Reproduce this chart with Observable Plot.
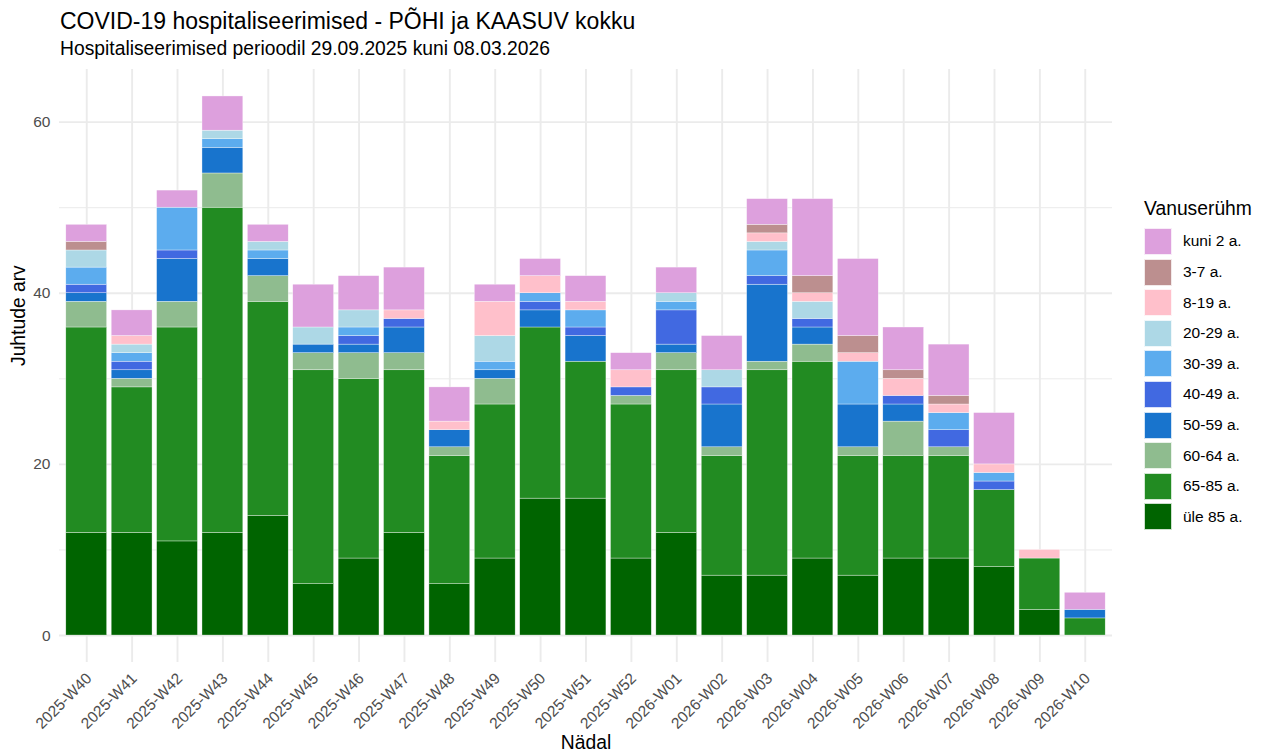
<!DOCTYPE html>
<html>
<head>
<meta charset="utf-8">
<script src="https://cdn.jsdelivr.net/npm/d3@7"></script>
<script src="https://cdn.jsdelivr.net/npm/@observablehq/plot@0.6"></script>
<style>
  body { margin: 0; background: #fff; font-family: "Liberation Sans", Arial, sans-serif; }
  #wrap { position: relative; width: 1263px; height: 753px; overflow: hidden; }
  #chart { position: absolute; left: 0; top: 0; }
  #title { position: absolute; left: 60px; top: 8px; font-size: 23px; color: #000; white-space: nowrap; }
  #subtitle { position: absolute; left: 60px; top: 37.5px; font-size: 19.3px; color: #000; white-space: nowrap; }
  #legend { position: absolute; left: 1144px; top: 197.5px; }
  #legend .lt { font-size: 19.3px; color: #000; height: 28.7px; line-height: 22px; white-space: nowrap; }
  #legend .row { display: flex; align-items: center; height: 30.6px; }
  #legend .key { width: 27.5px; height: 27px; box-sizing: border-box; border: 0.5px solid rgba(255,255,255,0.8); }
  #legend .lab { font-size: 15.5px; color: #000; margin-left: 11.5px; white-space: nowrap; }
</style>
</head>
<body>
<div id="wrap">
  <div id="chart"></div>
  <div id="title">COVID-19 hospitaliseerimised - PÕHI ja KAASUV kokku</div>
  <div id="subtitle">Hospitaliseerimised perioodil 29.09.2025 kuni 08.03.2026</div>
  <div id="legend"></div>
</div>
<script>
// Weeks (x categories)
const weeks = [
  "2025-W40","2025-W41","2025-W42","2025-W43","2025-W44","2025-W45","2025-W46",
  "2025-W47","2025-W48","2025-W49","2025-W50","2025-W51","2025-W52",
  "2026-W01","2026-W02","2026-W03","2026-W04","2026-W05","2026-W06","2026-W07",
  "2026-W08","2026-W09","2026-W10"
];

// Age groups, stacked bottom -> top
const groups = ["üle 85 a.","65-85 a.","60-64 a.","50-59 a.","40-49 a.","30-39 a.","20-29 a.","8-19 a.","3-7 a.","kuni 2 a."];
const groupColors = ["#006400","#228B22","#8FBC8F","#1874CD","#4169E1","#5CACEE","#ADD8E6","#FFC0CB","#BC8F8F","#DDA0DD"];

// Series values per age group (one value per week)
const ule85  = [12,12,11,12,14, 6, 9,12, 6, 9,16,16, 9,12, 7, 7, 9, 7, 9, 9, 8, 3, 0];
const a65_85 = [24,17,25,38,25,25,21,19,15,18,20,16,18,19,14,24,23,14,12,12, 9, 6, 2];
const a60_64 = [ 3, 1, 3, 4, 3, 2, 3, 2, 1, 3, 0, 0, 1, 2, 1, 1, 2, 1, 4, 1, 0, 0, 0];
const a50_59 = [ 1, 1, 5, 3, 2, 1, 1, 3, 2, 1, 2, 3, 0, 1, 5, 9, 2, 5, 2, 0, 0, 0, 1];
const a40_49 = [ 1, 1, 1, 0, 0, 0, 1, 1, 0, 0, 1, 1, 1, 4, 2, 1, 1, 0, 1, 2, 1, 0, 0];
const a30_39 = [ 2, 1, 5, 1, 1, 0, 1, 0, 0, 1, 1, 2, 0, 1, 0, 3, 0, 5, 0, 2, 1, 0, 0];
const a20_29 = [ 2, 1, 0, 1, 1, 2, 2, 0, 0, 3, 0, 0, 0, 1, 2, 1, 2, 0, 0, 0, 0, 0, 0];
const a8_19  = [ 0, 1, 0, 0, 0, 0, 0, 1, 1, 4, 2, 1, 2, 0, 0, 1, 1, 1, 2, 1, 1, 1, 0];
const a3_7   = [ 1, 0, 0, 0, 0, 0, 0, 0, 0, 0, 0, 0, 0, 0, 0, 1, 2, 2, 1, 1, 0, 0, 0];
const kuni2  = [ 2, 3, 2, 4, 2, 5, 4, 5, 4, 2, 2, 3, 2, 3, 4, 3, 9, 9, 5, 6, 6, 0, 2];

const series = [ule85, a65_85, a60_64, a50_59, a40_49, a30_39, a20_29, a8_19, a3_7, kuni2];

// Axis ticks
const majorTicks = [0, 20, 40, 60];
const minorTicks = [10, 30, 50];
const yDomain = [-3.15, 66.15];

const rows = [];
groups.forEach((g, gi) => {
  weeks.forEach((w, wi) => {
    const v = series[gi][wi];
    if (v > 0) rows.push({week: w, group: g, value: v});
  });
});

const font = '"Liberation Sans", Arial, sans-serif';

const chart = Plot.plot({
  width: 1263,
  height: 753,
  marginLeft: 59,
  marginRight: 151,
  marginTop: 69,
  marginBottom: 91,
  style: {fontFamily: font, background: "transparent", overflow: "visible"},
  x: {domain: weeks, paddingInner: 0.1, paddingOuter: 0.15, round: false, axis: null},
  y: {domain: yDomain, axis: null},
  color: {domain: groups, range: groupColors},
  marks: [
    Plot.ruleY(minorTicks, {stroke: "#ebebeb", strokeWidth: 1}),
    Plot.ruleY(majorTicks, {stroke: "#ebebeb", strokeWidth: 1.9}),
    Plot.ruleX(weeks, {x: d => d, y1: yDomain[0], y2: yDomain[1], stroke: "#ebebeb", strokeWidth: 1.9}),
    Plot.barY(rows, {x: "week", y: "value", fill: "group", order: groups, stroke: "#ffffff", strokeWidth: 0.5, strokeOpacity: 0.7}),
    Plot.axisY({ticks: majorTicks, tickSize: 0, tickPadding: 9, fontSize: 15.5, fill: "#4d4d4d", label: null}),
    Plot.text(weeks, {x: d => d, frameAnchor: "bottom", rotate: -45, textAnchor: "end", lineAnchor: "top", dx: -2, dy: 9, fontSize: 15.5, fill: "#4d4d4d"}),
    Plot.text(["Nädal"], {frameAnchor: "bottom", dy: 80, lineAnchor: "middle", fontSize: 19.3, fill: "#000"}),
    Plot.text(["Juhtude arv"], {frameAnchor: "left", dx: -41, rotate: -90, lineAnchor: "middle", fontSize: 19.3, fill: "#000"})
  ]
});
document.getElementById("chart").appendChild(chart);

// Legend (top -> bottom is reverse of stack order)
const legend = document.getElementById("legend");
const lt = document.createElement("div");
lt.className = "lt";
lt.textContent = "Vanuserühm";
legend.appendChild(lt);
groups.slice().reverse().forEach((g) => {
  const i = groups.indexOf(g);
  const row = document.createElement("div");
  row.className = "row";
  const key = document.createElement("div");
  key.className = "key";
  key.style.background = groupColors[i];
  const lab = document.createElement("div");
  lab.className = "lab";
  lab.textContent = g;
  row.appendChild(key);
  row.appendChild(lab);
  legend.appendChild(row);
});
</script>
</body>
</html>
